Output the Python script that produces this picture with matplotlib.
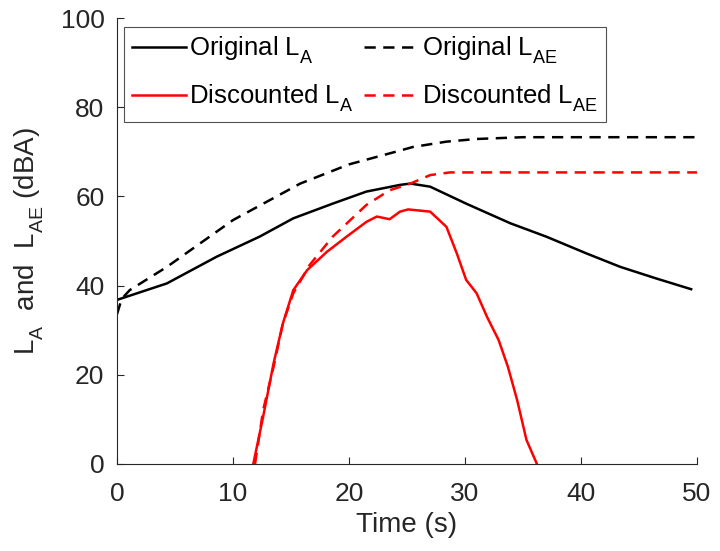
import matplotlib.pyplot as plt
from matplotlib import _mathtext

plt.rcParams["font.family"] = ["Liberation Sans", "DejaVu Sans"]
plt.rcParams["mathtext.default"] = "regular"
# MATLAB's tex interpreter drops subscripts lower than mathtext does
_mathtext.FontConstantsBase.sub1 = 0.6
_mathtext.FontConstantsBase.sub2 = 0.7

# Original L_A (black solid)
orig_la_t = [0, 4.3, 8.6, 12.3, 15.2, 18.6, 21.5, 24.4, 25.3, 27.0, 30.1, 33.9, 37.0, 40.5, 43.4, 46.5, 49.5]
orig_la_v = [36.8, 40.5, 46.5, 51.0, 55.1, 58.4, 61.1, 62.6, 62.9, 62.2, 58.4, 54.0, 51.0, 47.2, 44.2, 41.6, 39.2]

# Original L_AE (black dashed)
orig_lae_t = [0, 0.4, 1.1, 4.3, 10.0, 15.8, 20.0, 24.4, 25.5, 28.4, 31.0, 35.0, 50.0]
orig_lae_v = [33.6, 37.0, 39.0, 44.2, 54.7, 62.9, 67.2, 70.3, 71.1, 72.3, 72.9, 73.3, 73.3]

# Discounted L_A (red solid)
disc_la_t = [11.75, 12.6, 13.5, 14.3, 15.2, 16.4, 18.1, 19.8, 21.5, 22.4, 23.5, 24.4, 25.1, 27.0,
             28.4, 29.3, 30.1, 31.0, 31.9, 32.9, 33.7, 34.5, 35.3, 36.2]
disc_la_v = [0, 10.6, 22.6, 31.5, 39.0, 43.5, 47.6, 51.0, 54.3, 55.5, 54.9, 56.6, 57.1, 56.6,
             53.2, 47.2, 41.3, 38.3, 33.0, 27.8, 21.8, 14.3, 5.4, 0]

# Discounted L_AE (red dashed)
disc_lae_t = [11.9, 12.6, 13.5, 14.3, 15.2, 16.6, 18.6, 21.5, 23.5, 25.3, 27.0, 28.7, 50.0]
disc_lae_v = [0, 12.1, 21.8, 31.5, 38.3, 44.6, 51.0, 58.1, 61.4, 62.9, 64.8, 65.4, 65.4]

fig = plt.figure(figsize=(7.2, 5.51), dpi=100)
ax = fig.add_axes([0.1625, 0.158, 0.8055, 0.809])

dash = (0, (4.5, 3))
h1, = ax.plot(orig_la_t, orig_la_v, color="black", lw=1.8, label=r"Original L$_{A}$")
h2, = ax.plot(orig_lae_t, orig_lae_v, color="black", lw=1.8, ls=dash, label=r"Original L$_{AE}$")
h3, = ax.plot(disc_la_t, disc_la_v, color="#ff0000", lw=1.8, label=r"Discounted L$_{A}$")
h4, = ax.plot(disc_lae_t, disc_lae_v, color="#ff0000", lw=1.8, ls=dash, label=r"Discounted L$_{AE}$")

ax.set_xlim(0, 50)
ax.set_ylim(0, 100)
ax.set_xticks([0, 10, 20, 30, 40, 50])
ax.set_yticks([0, 20, 40, 60, 80, 100])
ax.spines["top"].set_visible(False)
ax.spines["right"].set_visible(False)
for s in ("left", "bottom"):
    ax.spines[s].set_color("#262626")
    ax.spines[s].set_linewidth(0.8)
ax.tick_params(direction="in", length=5, width=0.8, colors="#262626", labelsize=19,
               labelcolor="#262626")
ax.tick_params(axis="x", pad=13)
ax.tick_params(axis="y", pad=9)
ax.set_xlabel("Time (s)", fontsize=20, color="#262626", labelpad=4)
ax.set_ylabel(r"L$_{A}$  and  L$_{AE}$ (dBA)", fontsize=20, color="#262626", labelpad=11)

# row-major order: MATLAB fills legend rows first
leg = ax.legend([h1, h3, h2, h4], [h.get_label() for h in (h1, h3, h2, h4)],
                loc="upper left", bbox_to_anchor=(0.012, 0.98), borderaxespad=0, ncol=2,
                fontsize=18.5, handlelength=2.1, handletextpad=0.15, columnspacing=0.4,
                fancybox=False, frameon=True, labelspacing=0.65, borderpad=0.3)
leg.get_frame().set_edgecolor("#262626")
leg.get_frame().set_linewidth(0.8)

fig.savefig("out.png", dpi=100)
